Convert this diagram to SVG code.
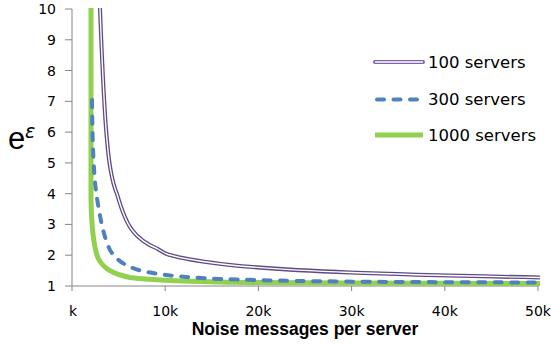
<svg xmlns="http://www.w3.org/2000/svg" width="551" height="345" viewBox="0 0 551 345">
<style>
.ax{stroke:#868686;stroke-width:1;fill:none}
.tk{font-family:"DejaVu Sans",sans-serif;font-size:14px;fill:#000}
.lg{font-family:"DejaVu Sans",sans-serif;font-size:16.5px;fill:#000}
.p1{stroke:#5E4A86;stroke-width:4;fill:none}
.p2{stroke:#fff;stroke-width:1.4;fill:none}
.b{stroke:#4F81BD;stroke-width:4;fill:none;stroke-dasharray:7 9.5;stroke-linecap:round}
.g{stroke:#92D050;stroke-width:5;fill:none}
</style>
<defs>
<clipPath id="plot"><rect x="72" y="8" width="475" height="280"/></clipPath>
</defs>
<rect width="551" height="345" fill="#fff"/>
<g id="axes">
<path class="ax" d="M72,9V291M65,9H72M65,39.8H72M65,70.5H72M65,101.3H72M65,132.1H72M65,162.9H72M65,193.7H72M65,224.4H72M65,255.2H72M65,286H538M165.2,286V291M258.4,286V291M351.6,286V291M444.8,286V291M538,286V291"/>
<g class="tk" text-anchor="end">
<text x="56" y="14">10</text>
<text x="56" y="44.8">9</text>
<text x="56" y="75.5">8</text>
<text x="56" y="106.3">7</text>
<text x="56" y="137.1">6</text>
<text x="56" y="167.9">5</text>
<text x="56" y="198.7">4</text>
<text x="56" y="229.4">3</text>
<text x="56" y="260.2">2</text>
<text x="56" y="291">1</text>
</g>
<g class="tk" text-anchor="middle">
<text x="73" y="316">k</text>
<text x="165.2" y="316">10k</text>
<text x="258.4" y="316">20k</text>
<text x="351.6" y="316">30k</text>
<text x="444.8" y="316">40k</text>
<text x="538" y="316">50k</text>
</g>
<text x="305" y="335" text-anchor="middle" font-family="Liberation Sans, sans-serif" font-weight="bold" font-size="17.5">Noise messages per server</text>
<text x="8" y="149" font-family="Liberation Sans, sans-serif" font-size="31">e</text>
<text x="25" y="137.5" font-family="DejaVu Sans, sans-serif" font-style="italic" font-size="19">ε</text>
</g>
<g id="connectors" clip-path="url(#plot)">
<g id="s1000">
<path class="g" d="M91,0L91,200C91.5,225 93,245 98,258C103,268 112,274 130,277.5C150,280 175,281.5 250,282.5L350,283L540,283.5"/>
</g>
<g id="s300">
<path class="b" d="M92,100C92.5,150 94,180 97,198C100,218 104,238 110,250C116,260 125,266 140,270.5C155,274 175,277 220,279C260,280.5 320,281.5 400,282L540,282.5"/>
</g>
<g id="s100">
<path class="p1" d="M99.5,0L100,9C102,60 104,110 107,140C109,165 112,182 117,194C121,208 126,222 132,230C138,238 146,244 157,248.5C161,251 164,253 168,254.5C180,258 200,261.5 230,265C260,268 300,270.5 350,272.5C400,274.5 450,275.7 540,277.5"/>
<path class="p2" d="M99.5,0L100,9C102,60 104,110 107,140C109,165 112,182 117,194C121,208 126,222 132,230C138,238 146,244 157,248.5C161,251 164,253 168,254.5C180,258 200,261.5 230,265C260,268 300,270.5 350,272.5C400,274.5 450,275.7 540,277.5"/>
</g>
</g>
<g id="legend">
<g id="leg100">
<path d="M375,62H423" stroke="#8064A2" stroke-width="4" stroke-linecap="round"/>
<path d="M375,62H423" stroke="#fff" stroke-width="1.4"/>
<text class="lg" x="428" y="67.5">100 servers</text>
</g>
<g id="leg300">
<path class="b" d="M377,99.5H421"/>
<text class="lg" x="428" y="105">300 servers</text>
</g>
<g id="leg1000">
<path class="g" d="M375,135H423" stroke-width="4"/>
<text class="lg" x="428" y="140.5">1000 servers</text>
</g>
</g>
</svg>
